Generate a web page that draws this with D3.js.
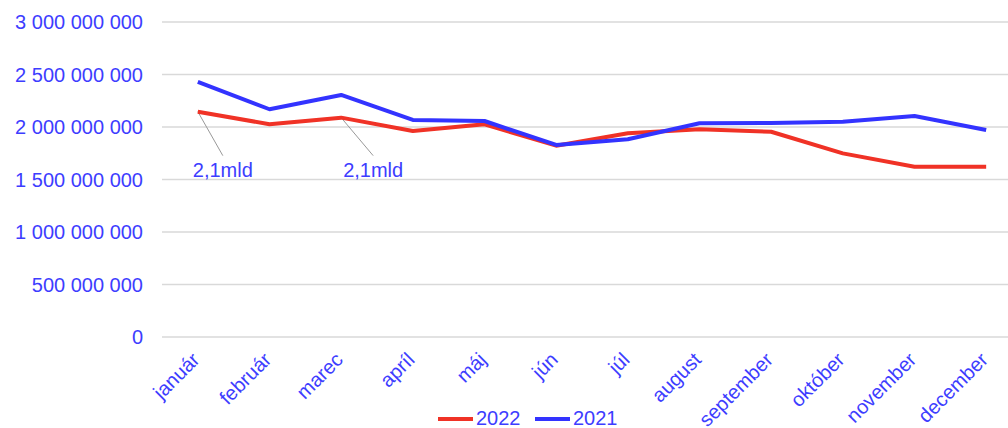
<!DOCTYPE html>
<html>
<head>
<meta charset="utf-8">
<script src="https://cdnjs.cloudflare.com/ajax/libs/d3/7.8.5/d3.min.js"></script>
<style>
  body { margin: 0; background: #fff; }
  text { font-family: "Liberation Sans", Arial, sans-serif; }
</style>
</head>
<body>
<script>
// ** data
var months = ['január', 'február', 'marec', 'apríl', 'máj', 'jún', 'júl', 'august', 'september', 'október', 'november', 'december'];
var values2022 = [2146e6, 2026e6, 2089e6, 1962e6, 2026e6, 1822e6, 1940e6, 1978e6, 1955e6, 1749e6, 1622e6, 1622e6];
var values2021 = [2429e6, 2169e6, 2305e6, 2067e6, 2057e6, 1829e6, 1883e6, 2035e6, 2038e6, 2051e6, 2105e6, 1971e6];
var yTicks = [0, 500e6, 1000e6, 1500e6, 2000e6, 2500e6, 3000e6];
var series = [
  {name: '2022', values: values2022, color: '#f03226'},
  {name: '2021', values: values2021, color: '#3333ff'}
];
// ** annotations on the 2022 line
var notes = [
  {i: 0, text: '2,1mld', dx: 25, dy: 44},
  {i: 2, text: '2,1mld', dx: 32, dy: 38}
];

var textColor = '#3d3dff';

//** Create container
var svg = d3.select('body').append('svg')
    .attr('width', 1008)
    .attr('height', 428);

var x = d3.scalePoint().domain(months).range([162, 1022]).padding(0.5);
var y = d3.scaleLinear().domain([0, 3000e6]).range([337, 22]);

var fmt = function(v){
  return d3.format(',')(v).replace(/,/g, ' ');
};

// ** gridlines
svg.append('g').selectAll('line')
    .data(yTicks)
  .enter().append('line')
    .attr('x1', 162).attr('x2', 1008)
    .attr('y1', function(d){ return y(d); })
    .attr('y2', function(d){ return y(d); })
    .attr('stroke', '#d9d9d9')
    .attr('stroke-width', 1.3);

// ** y axis labels
svg.append('g').selectAll('text')
    .data(yTicks)
  .enter().append('text')
    .attr('x', 143)
    .attr('y', function(d){ return y(d) + 7; })
    .attr('text-anchor', 'end')
    .attr('fill', textColor)
    .style('font-size', '20px')
    .text(fmt);

// ** x axis labels
svg.append('g').selectAll('text')
    .data(months)
  .enter().append('text')
    .attr('text-anchor', 'end')
    .attr('transform', function(d){
      return 'translate(' + (x(d) + 3) + ',361) rotate(-45)';
    })
    .attr('fill', textColor)
    .style('font-size', '20px')
    .text(function(d){ return d; });

// ** annotation leader lines
var notesG = svg.append('g');
notes.forEach(function(n){
  var px = x(months[n.i]), py = y(values2022[n.i]);
  notesG.append('line')
      .attr('x1', px).attr('y1', py)
      .attr('x2', px + n.dx).attr('y2', py + n.dy)
      .attr('stroke', '#999')
      .attr('stroke-width', 1);
});

// ** lines
var line = d3.line()
    .x(function(d, i){ return x(months[i]); })
    .y(function(d){ return y(d); });

svg.append('g').selectAll('path')
    .data(series)
  .enter().append('path')
    .attr('d', function(d){ return line(d.values); })
    .attr('fill', 'none')
    .attr('stroke', function(d){ return d.color; })
    .attr('stroke-width', 4)
    .attr('stroke-linejoin', 'round');

// ** annotation texts
notes.forEach(function(n){
  var px = x(months[n.i]), py = y(values2022[n.i]);
  notesG.append('text')
      .attr('x', px + n.dx)
      .attr('y', py + n.dy + 21)
      .attr('text-anchor', 'middle')
      .attr('fill', textColor)
      .style('font-size', '20px')
      .text(n.text);
});

// ** legend
var legend = svg.append('g').selectAll('g')
    .data(series)
  .enter().append('g')
    .attr('transform', function(d, i){ return 'translate(' + (438 + i * 97) + ',419)'; });
legend.append('line')
    .attr('x1', 0).attr('x2', 35)
    .attr('stroke', function(d){ return d.color; })
    .attr('stroke-width', 4);
legend.append('text')
    .attr('x', 38).attr('y', 6)
    .attr('fill', textColor)
    .style('font-size', '20px')
    .text(function(d){ return d.name; });
</script>
</body>
</html>
